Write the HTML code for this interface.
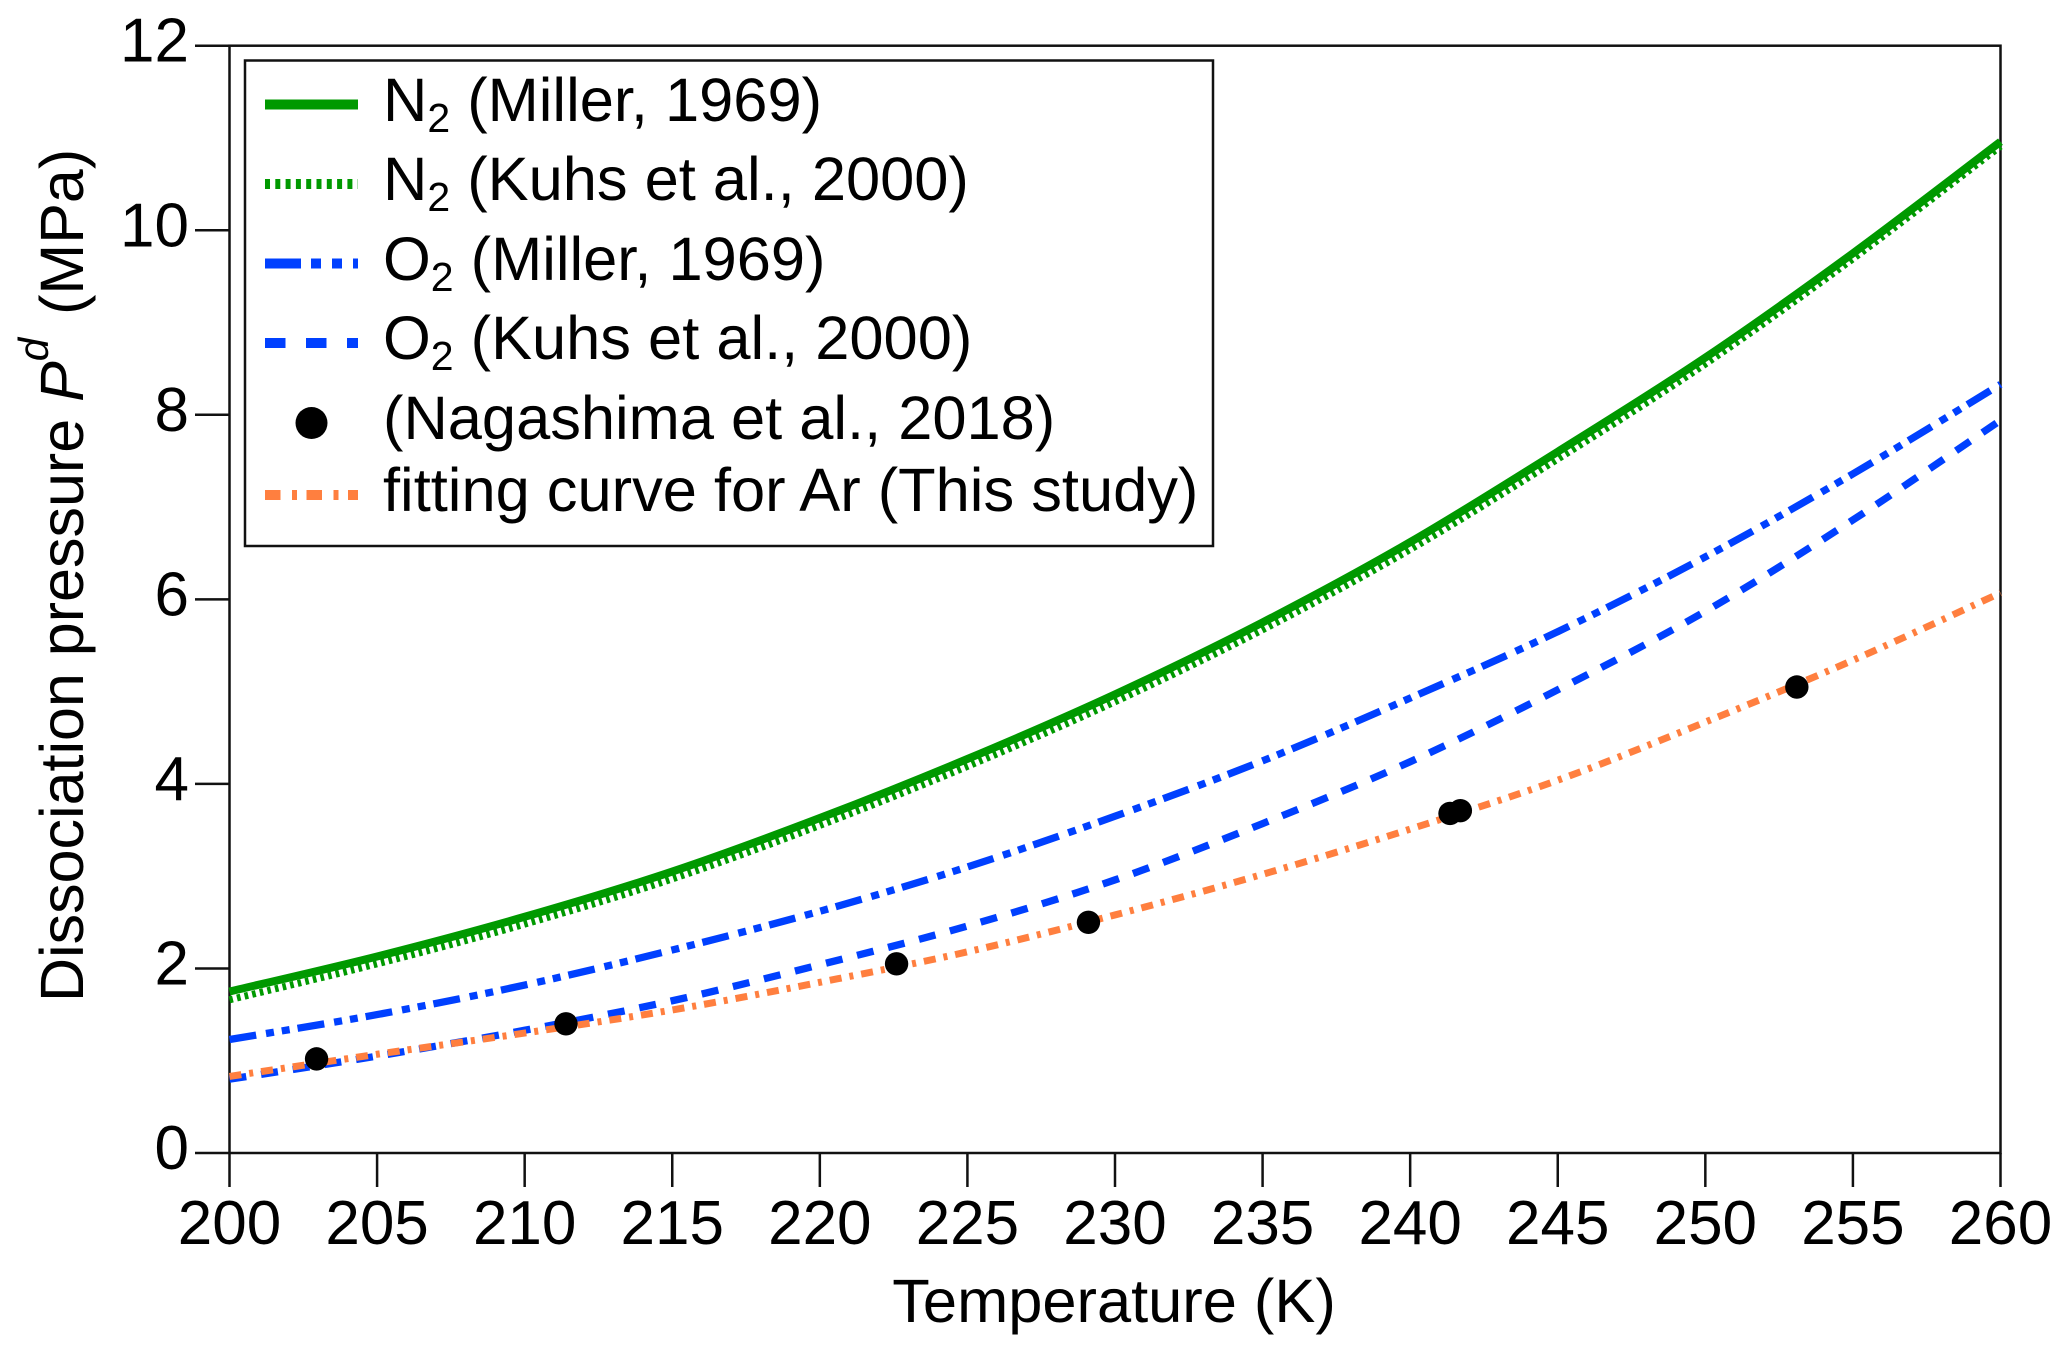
<!DOCTYPE html>
<html lang="en">
<head>
<meta charset="utf-8">
<title>Dissociation pressure vs temperature</title>
<style>
html,body{margin:0;padding:0;background:#fff;}
svg{display:block;}
text{font-family:"Liberation Sans",Arial,sans-serif;fill:#000;font-size:61.4px;}
text.tick-text{font-size:62px;}
</style>
</head>
<body>
<svg id="chart" width="2067" height="1352" viewBox="0 0 2067 1352" xmlns="http://www.w3.org/2000/svg">
  <rect x="0" y="0" width="2067" height="1352" fill="#fff"/>
  <g id="axes"></g>
  <g id="series"></g>
  <g id="points"></g>

  <text x="1114" y="1322" text-anchor="middle">Temperature (K)</text>
  <text transform="translate(83,1002) rotate(-90)" style="font-size:61px">Dissociation pressure <tspan font-style="italic">P</tspan><tspan font-style="italic" font-size="42" dy="-35">d</tspan><tspan dx="6" dy="35"> (MPa)</tspan></text>

  <g>
    <rect x="245" y="60.5" width="968" height="485.5" fill="#fff" stroke="#111" stroke-width="2.5"/>

    <g>
      <line x1="265" y1="104.5" x2="358" y2="104.5" stroke="#009900" stroke-width="10"/>
      <text x="383" y="121">N<tspan font-size="41" dy="11">2</tspan><tspan dy="-11"> (Miller, 1969)</tspan></text>
    </g>
    <g>
      <line x1="265" y1="184" x2="358" y2="184" stroke="#009900" stroke-width="10" stroke-dasharray="5 5.3"/>
      <text x="383" y="200">N<tspan font-size="41" dy="11">2</tspan><tspan dy="-11"> (Kuhs et al., 2000)</tspan></text>
    </g>
    <g>
      <line x1="265" y1="263.5" x2="358" y2="263.5" stroke="#0040ff" stroke-width="10" stroke-dasharray="36 10 10 11 10 11"/>
      <text x="383" y="280">O<tspan font-size="41" dy="11">2</tspan><tspan dy="-11"> (Miller, 1969)</tspan></text>
    </g>
    <g>
      <line x1="265" y1="343" x2="358" y2="343" stroke="#0040ff" stroke-width="10" stroke-dasharray="20.5 20.5"/>
      <text x="383" y="359">O<tspan font-size="41" dy="11">2</tspan><tspan dy="-11"> (Kuhs et al., 2000)</tspan></text>
    </g>
    <g>
      <circle cx="311.5" cy="423" r="16" fill="#000"/>
      <text x="383" y="439">(Nagashima et al., 2018)</text>
    </g>
    <g>
      <line x1="265" y1="495" x2="358" y2="495" stroke="#ff7f3f" stroke-width="10" stroke-dasharray="15.5 11.5 5 9.5"/>
      <text x="383" y="511">fitting curve for Ar (This study)</text>
    </g>
  </g>
</svg>
<script>
var xTicks = [200,205,210,215,220,225,230,235,240,245,250,255,260];
var yTicks = [0,2,4,6,8,10,12];
var temperatures = [200,205,210,215,220,225,230,235,240,245,250,255,260];
var n2Miller = [1.75,2.13,2.56,3.05,3.63,4.27,4.97,5.75,6.62,7.60,8.62,9.75,10.96];
var n2Kuhs = [1.66,2.05,2.48,2.97,3.55,4.19,4.89,5.67,6.54,7.52,8.55,9.69,10.91];
var o2Miller = [1.23,1.50,1.82,2.20,2.62,3.10,3.65,4.25,4.93,5.65,6.46,7.36,8.33];
var o2Kuhs = [0.80,1.05,1.33,1.65,2.04,2.46,2.96,3.57,4.24,5.02,5.87,6.86,7.94];
var arFit = [0.83,1.07,1.30,1.55,1.85,2.18,2.58,3.02,3.51,4.04,4.67,5.34,6.07];
var pointTemps = [202.95,211.4,222.6,229.1,241.35,241.7,253.1];
var pointPressures = [1.02,1.40,2.05,2.50,3.68,3.71,5.05];

var SVG_NS = 'http://www.w3.org/2000/svg';
var plot = {left:229.5, right:2000.5, top:45.7, bottom:1153, xMin:200, xMax:260, yMin:0, yMax:12};
function xScale(v){ return plot.left + (v - plot.xMin) / (plot.xMax - plot.xMin) * (plot.right - plot.left); }
function yScale(v){ return plot.bottom - (v - plot.yMin) / (plot.yMax - plot.yMin) * (plot.bottom - plot.top); }
function make(tag, attrs, parent){
  var el = document.createElementNS(SVG_NS, tag);
  for (var k in attrs) el.setAttribute(k, attrs[k]);
  parent.appendChild(el);
  return el;
}
function smoothPath(xs, ys){
  var pts = xs.map(function(x, i){ return [xScale(x), yScale(ys[i])]; });
  var d = 'M' + pts[0][0].toFixed(2) + ' ' + pts[0][1].toFixed(2);
  for (var i = 0; i < pts.length - 1; i++){
    var p0 = pts[Math.max(i - 1, 0)], p1 = pts[i], p2 = pts[i + 1], p3 = pts[Math.min(i + 2, pts.length - 1)];
    d += 'C' + (p1[0] + (p2[0] - p0[0]) / 6).toFixed(2) + ' ' + (p1[1] + (p2[1] - p0[1]) / 6).toFixed(2) + ' ' +
         (p2[0] - (p3[0] - p1[0]) / 6).toFixed(2) + ' ' + (p2[1] - (p3[1] - p1[1]) / 6).toFixed(2) + ' ' +
         p2[0].toFixed(2) + ' ' + p2[1].toFixed(2);
  }
  return d;
}

var axes = document.getElementById('axes');
var frame = make('rect', {x:plot.left, y:plot.top, width:plot.right - plot.left, height:plot.bottom - plot.top, fill:'none', stroke:'#111', 'stroke-width':2.5}, axes);



xTicks.forEach(function(t){
  var px = xScale(t);
  var tick = make('line', {x1:px, y1:plot.bottom, x2:px, y2:1187, stroke:'#111', 'stroke-width':2.5}, axes);
  
  
  var label = make('text', {x:px, y:1244, 'text-anchor':'middle', 'class':'tick-text'}, axes);
  
  
  label.textContent = t;
});
yTicks.forEach(function(t){
  var py = yScale(t);
  var tick = make('line', {x1:195, y1:py, x2:plot.left, y2:py, stroke:'#111', 'stroke-width':2.5}, axes);
  
  
  var label = make('text', {x:189, y:py + 16, 'text-anchor':'end', 'class':'tick-text'}, axes);
  
  
  label.textContent = t;
});

var seriesGroup = document.getElementById('series');
var n2MillerLine = make('path', {d:smoothPath(temperatures, n2Miller), fill:'none', stroke:'#009900', 'stroke-width':8}, seriesGroup);


var n2KuhsLine = make('path', {d:smoothPath(temperatures, n2Kuhs), fill:'none', stroke:'#009900', 'stroke-width':7, 'stroke-dasharray':'3.6 4.2'}, seriesGroup);


var o2MillerLine = make('path', {d:smoothPath(temperatures, o2Miller), fill:'none', stroke:'#0040ff', 'stroke-width':7.3, 'stroke-dasharray':'27 10 8 8 8 8'}, seriesGroup);


var o2KuhsLine = make('path', {d:smoothPath(temperatures, o2Kuhs), fill:'none', stroke:'#0040ff', 'stroke-width':7.3, 'stroke-dasharray':'17 15'}, seriesGroup);


var arFitLine = make('path', {d:smoothPath(temperatures, arFit), fill:'none', stroke:'#ff7f3f', 'stroke-width':7, 'stroke-dasharray':'12 8 4 8'}, seriesGroup);



var pointsGroup = document.getElementById('points');
pointTemps.forEach(function(t, i){
  var c = make('circle', {cx:xScale(t), cy:yScale(pointPressures[i]), r:11.7, fill:'#000'}, pointsGroup);
  
  
});
</script>
</body>
</html>
